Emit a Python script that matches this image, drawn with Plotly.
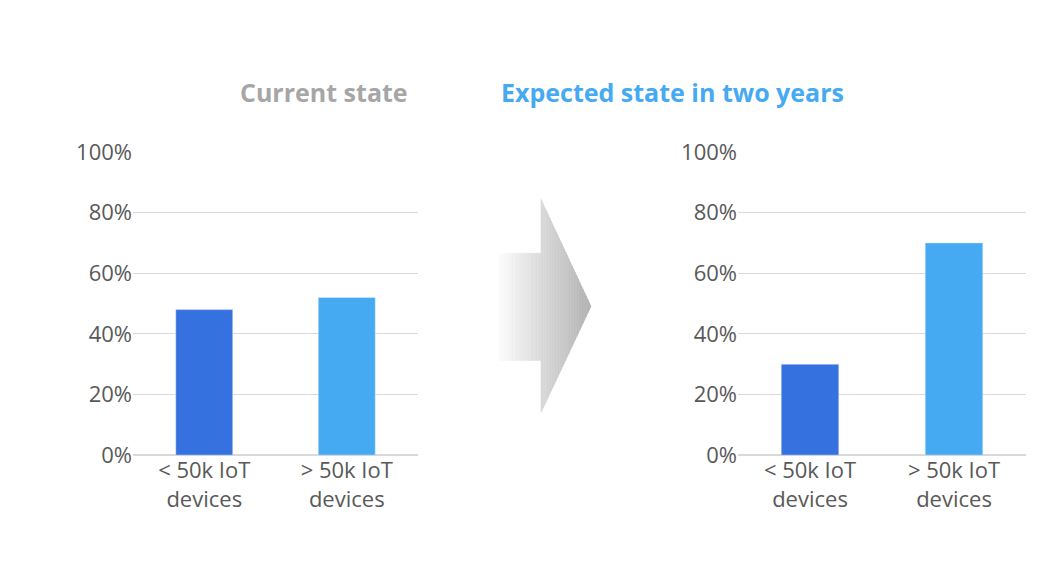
import plotly.graph_objects as go

categories = ["< 50k IoT<br>devices", "> 50k IoT<br>devices"]
current_values = [0.48, 0.52]
expected_values = [0.30, 0.70]
bar_colors = ["#3572E0", "#45AAF2"]
tick_vals = [0, 0.2, 0.4, 0.6, 0.8, 1.0]
tick_text = ["0%", "20%", "40%", "60%", "80%", "100%"]

W, H = 1064, 572
fig = go.Figure()
fig.add_trace(go.Bar(x=categories, y=current_values, marker_color=bar_colors, width=0.4, xaxis="x", yaxis="y"))
fig.add_trace(go.Bar(x=categories, y=expected_values, marker_color=bar_colors, width=0.4, xaxis="x2", yaxis="y2"))

# decorative gradient arrow as paper-coordinate strips
def edges(x):
    if x <= 533:
        return 242, 355
    t = (x - 533) / 50
    return 185 + t * 113, 410 - t * 112

shapes = []
xs0, xs1 = 488, 583
n = 60
for i in range(n):
    a = xs0 + (xs1 - xs0) * i / n
    b = xs0 + (xs1 - xs0) * (i + 1) / n
    pts = []
    if a < 533 < b:
        xs = [a, 533, 533, b]
        tops = [edges(a)[0], 242, 185, edges(b)[0]]
        bots = [edges(a)[1], 355, 410, edges(b)[1]]
    else:
        xs = [a, b]
        tops = [edges(a)[0], edges(b)[0]]
        bots = [edges(a)[1], edges(b)[1]]
    poly = [(x, y) for x, y in zip(xs, tops)] + [(x, y) for x, y in zip(xs[::-1], bots[::-1])]
    path = "M " + " L ".join(f"{x / W:.5f},{1 - y / H:.5f}" for x, y in poly) + " Z"
    f = i / (n - 1)
    v = int(round(255 - f * (255 - 178)))
    col = f"rgb({v},{v},{v})"
    shapes.append(dict(type="path", path=path, xref="paper", yref="paper", fillcolor=col,
                       line=dict(width=0.6, color=col), layer="below"))

font = dict(family="Open Sans, Liberation Sans, sans-serif", size=22, color="#595959")
yd = [1 - 455 / H, 1 - 135 / H]
common_y = dict(range=[0, 1], tickvals=tick_vals, ticktext=tick_text, showgrid=True, gridcolor="#d9d9d9",
                gridwidth=1, zeroline=True, zerolinecolor="#d9d9d9", tickfont=font, ticks="", fixedrange=True)
common_x = dict(tickfont=font, showline=False, ticks="", fixedrange=True)
fig.update_layout(
    width=W, height=H, autosize=False, margin=dict(l=0, r=0, t=0, b=0), paper_bgcolor="white", plot_bgcolor="white",
    showlegend=False, bargap=0.5, font=font, shapes=shapes,
    xaxis=dict(domain=[125 / W, 410 / W], anchor="y", **common_x),
    yaxis=dict(domain=yd, anchor="x", **common_y),
    xaxis2=dict(domain=[730 / W, 1018 / W], anchor="y2", **common_x),
    yaxis2=dict(domain=yd, anchor="x2", **common_y),
    annotations=[
        dict(text="<b>Current state</b>", x=230 / W, y=1 - 52 / H, xref="paper", yref="paper", showarrow=False,
             font=dict(family="Open Sans, Liberation Sans, sans-serif", size=25, color="#a6a6a6")),
        dict(text="<b>Expected state in two years</b>", x=838 / W, y=1 - 52 / H, xref="paper", yref="paper",
             showarrow=False, font=dict(family="Open Sans, Liberation Sans, sans-serif", size=25, color="#45AAF2")),
    ],
)
fig.write_html("out.html")
